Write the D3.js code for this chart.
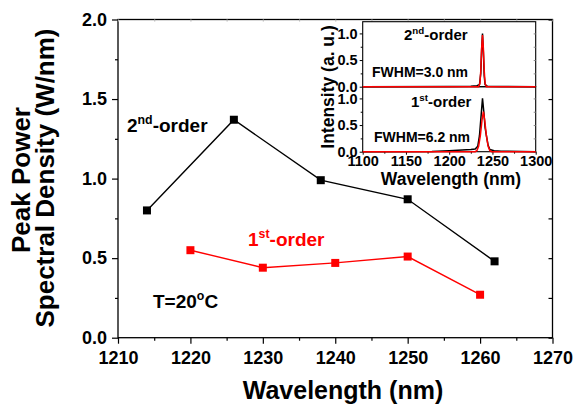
<!DOCTYPE html>
<html>
<meta charset="utf-8">
<style>
body {
  margin: 0;
  background: #fff;
}
svg text {
  font-family: "Liberation Sans", Arial, sans-serif;
  font-weight: bold;
  fill: #000;
}
.axis path {
  display: none;
}
.axis line {
  stroke: #000;
  stroke-width: 1.2px;
}
</style>
<body>
<svg width="574" height="406"></svg>
<script src="https://cdn.jsdelivr.net/npm/d3@7/dist/d3.min.js"></script>
<script>

// main chart: peak power spectral density vs wavelength
var wl2nd = [1214, 1226, 1238, 1250, 1262];
var psd2nd = [0.80, 1.37, 0.99, 0.87, 0.48];
var wl1st = [1220, 1230, 1240, 1250, 1260];
var psd1st = [0.55, 0.44, 0.47, 0.51, 0.27];

var xTicks = [1210, 1220, 1230, 1240, 1250, 1260, 1270];
var xMinor = [1215, 1225, 1235, 1245, 1255, 1265];
var yTicks = [0, 0.5, 1.0, 1.5, 2.0];
var yMinor = [0.25, 0.75, 1.25, 1.75];

// inset: measured spectra (black) and fits (red)
var spec2Wl  = [1100, 1200, 1225, 1232, 1235, 1236.5, 1237.5, 1238.5, 1239.5, 1240.5, 1241.5, 1244, 1260, 1300];
var spec2Int = [0, 0.005, 0.01, 0.02, 0.04, 0.25, 0.7, 1.0, 0.65, 0.2, 0.04, 0.01, 0.003, 0];
var fit2Wl   = [1100, 1234, 1235.5, 1236.5, 1237.5, 1238.5, 1239.5, 1240.5, 1241.5, 1243, 1300];
var fit2Int  = [0, 0, 0.06, 0.3, 0.72, 0.97, 0.72, 0.3, 0.06, 0, 0];

var spec1Wl  = [1100, 1180, 1200, 1215, 1225, 1230, 1233, 1235, 1237, 1238.5, 1240, 1241.5, 1243, 1245, 1247, 1252, 1260, 1300];
var spec1Int = [0, 0.005, 0.02, 0.03, 0.04, 0.05, 0.1, 0.3, 0.7, 1.0, 0.75, 0.45, 0.3, 0.12, 0.04, 0.02, 0.01, 0];
var fit1Wl   = [1100, 1230, 1232, 1234, 1236, 1238, 1239.5, 1241, 1243, 1245, 1247, 1249, 1300];
var fit1Int  = [0, 0, 0.02, 0.1, 0.3, 0.6, 0.75, 0.6, 0.3, 0.1, 0.02, 0, 0];

var insetXTicks = [1100, 1150, 1200, 1250, 1300];
var insetXMinor = [1125, 1175, 1225, 1275];
var insetYTicks = [0, 0.5, 1.0];
var insetYMinor = [0.25, 0.75];

var svg = d3.select("svg");

var x = d3.scaleLinear().domain([1210, 1270]).range([118, 552.5]);
var y = d3.scaleLinear().domain([0, 2]).range([337.7, 19.5]);

// frame
svg.append("rect")
    .attr("x", x(1210)).attr("y", y(2))
    .attr("width", x(1270) - x(1210)).attr("height", y(0) - y(2))
    .attr("fill", "none").attr("stroke", "#000").attr("stroke-width", 1.3);

// bottom axis
svg.append("g").attr("class", "axis")
    .attr("transform", "translate(0," + y(0) + ")")
    .call(d3.axisBottom(x).tickValues(xTicks).tickSize(6).tickPadding(7.5).tickFormat(d3.format("d")))
    .selectAll("text").style("font-size", "18px");
svg.append("g").attr("class", "axis")
    .attr("transform", "translate(0," + y(0) + ")")
    .call(d3.axisBottom(x).tickValues(xMinor).tickSize(3).tickFormat(""));

// left axis
svg.append("g").attr("class", "axis")
    .attr("transform", "translate(" + x(1210) + ",0)")
    .call(d3.axisLeft(y).tickValues(yTicks).tickSize(6).tickPadding(5).tickFormat(d3.format(".1f")))
    .selectAll("text").style("font-size", "18px");
svg.append("g").attr("class", "axis")
    .attr("transform", "translate(" + x(1210) + ",0)")
    .call(d3.axisLeft(y).tickValues(yMinor).tickSize(3).tickFormat(""));

// right axis, inward ticks
svg.append("g").attr("class", "axis")
    .attr("transform", "translate(" + x(1270) + ",0)")
    .call(d3.axisLeft(y).tickValues(yTicks.concat(yMinor)).tickSize(4).tickFormat(""));

// top axis, faint inward ticks
svg.append("g").attr("class", "axis")
    .attr("transform", "translate(0," + y(2) + ")")
    .call(d3.axisBottom(x).tickValues(xTicks.concat(xMinor)).tickSize(2).tickFormat(""))
    .selectAll("line").style("stroke", "#bbb");

// axis titles
svg.append("text")
    .attr("x", 343).attr("y", 399)
    .attr("text-anchor", "middle")
    .style("font-size", "25px")
    .text("Wavelength (nm)");

svg.append("text")
    .attr("transform", "translate(30,180) rotate(-90)")
    .attr("text-anchor", "middle")
    .style("font-size", "26px")
    .text("Peak Power");
svg.append("text")
    .attr("transform", "translate(54,178) rotate(-90)")
    .attr("text-anchor", "middle")
    .style("font-size", "26px")
    .text("Spectral Density (W/nm)");

// series
var line = d3.line()
    .x(function(d) { return x(d[0]); })
    .y(function(d) { return y(d[1]); });

function drawSeries(wl, val, color) {
  var pts = d3.zip(wl, val);
  svg.append("path")
      .datum(pts)
      .attr("d", line)
      .attr("fill", "none")
      .attr("stroke", color)
      .attr("stroke-width", 1.4);
  svg.append("g").selectAll("rect")
      .data(pts)
      .enter().append("rect")
      .attr("x", function(d) { return x(d[0]) - 4; })
      .attr("y", function(d) { return y(d[1]) - 4; })
      .attr("width", 8)
      .attr("height", 8)
      .attr("fill", color);
}
drawSeries(wl2nd, psd2nd, "#000");
drawSeries(wl1st, psd1st, "#ff0000");

// labels with superscripts
function supLabel(g, px, py, size, color, base, sup, rest) {
  var t = g.append("text")
      .attr("x", px).attr("y", py)
      .style("font-size", size + "px")
      .style("fill", color);
  t.append("tspan").text(base);
  t.append("tspan").attr("dy", -size * 0.42).style("font-size", (size * 0.65) + "px").text(sup);
  t.append("tspan").attr("dy", size * 0.42).text(rest);
  return t;
}
supLabel(svg, 127, 132, 19, "#000", "2", "nd", "-order");
supLabel(svg, 248, 246, 19, "#ff0000", "1", "st", "-order");
supLabel(svg, 153, 308, 19, "#000", "T=20", "o", "C");

// ---- inset ----
var ix = d3.scaleLinear().domain([1100, 1300]).range([362.7, 535.7]);
var iyTop = d3.scaleLinear().domain([0, 1.22]).range([86.7, 21.7]);
var iyBot = d3.scaleLinear().domain([0, 1.22]).range([151.7, 86.7]);

var inset = svg.append("g");

[iyTop, iyBot].forEach(function(sy, i) {
  inset.append("rect")
      .attr("x", ix(1100)).attr("y", sy(1.22))
      .attr("width", ix(1300) - ix(1100)).attr("height", sy(0) - sy(1.22))
      .attr("fill", "none").attr("stroke", "#000").attr("stroke-width", 1.1);
  inset.append("g").attr("class", "axis")
      .attr("transform", "translate(" + ix(1100) + ",0)")
      .call(d3.axisLeft(sy).tickValues(insetYTicks).tickSize(3).tickPadding(2).tickFormat(d3.format(".1f")))
      .selectAll("text").style("font-size", "14.5px");
  inset.append("g").attr("class", "axis")
      .attr("transform", "translate(" + ix(1100) + ",0)")
      .call(d3.axisLeft(sy).tickValues(insetYMinor).tickSize(2).tickFormat(""));
  inset.append("g").attr("class", "axis")
      .attr("transform", "translate(" + ix(1300) + ",0)")
      .call(d3.axisLeft(sy).tickValues(insetYTicks.concat(insetYMinor)).tickSize(2).tickFormat(""))
      .selectAll("line").style("stroke", "#888");
});

inset.append("g").attr("class", "axis")
    .attr("transform", "translate(0," + iyBot(0) + ")")
    .call(d3.axisBottom(ix).tickValues(insetXTicks).tickSize(3).tickPadding(1.5).tickFormat(d3.format("d")))
    .selectAll("text").style("font-size", "14.5px");
inset.append("g").attr("class", "axis")
    .attr("transform", "translate(0," + iyBot(0) + ")")
    .call(d3.axisBottom(ix).tickValues(insetXMinor).tickSize(2).tickFormat(""));

inset.selectAll(".axis line").style("stroke-width", "1px");

function drawSpectrum(wl, val, sy, color) {
  inset.append("path")
      .datum(d3.zip(wl, val))
      .attr("d", d3.line()
          .x(function(d) { return ix(d[0]); })
          .y(function(d) { return sy(d[1]); }))
      .attr("fill", "none")
      .attr("stroke", color)
      .attr("stroke-width", 1.5);
}
drawSpectrum(spec2Wl, spec2Int, iyTop, "#000");
drawSpectrum(fit2Wl, fit2Int, iyTop, "#ff0000");
drawSpectrum(spec1Wl, spec1Int, iyBot, "#000");
drawSpectrum(fit1Wl, fit1Int, iyBot, "#ff0000");

supLabel(inset, 404, 40, 15, "#000", "2", "nd", "-order");
supLabel(inset, 411, 107, 15, "#000", "1", "st", "-order");
inset.append("text").attr("x", 372).attr("y", 77).style("font-size", "14px").text("FWHM=3.0 nm");
inset.append("text").attr("x", 374).attr("y", 142).style("font-size", "14px").text("FWHM=6.2 nm");

inset.append("text")
    .attr("x", 451).attr("y", 185)
    .attr("text-anchor", "middle")
    .style("font-size", "17.5px")
    .text("Wavelength (nm)");
inset.append("text")
    .attr("transform", "translate(334,87) rotate(-90)")
    .attr("text-anchor", "middle")
    .style("font-size", "17.5px")
    .text("Intensity (a. u.)");

</script>
</body>
</html>
